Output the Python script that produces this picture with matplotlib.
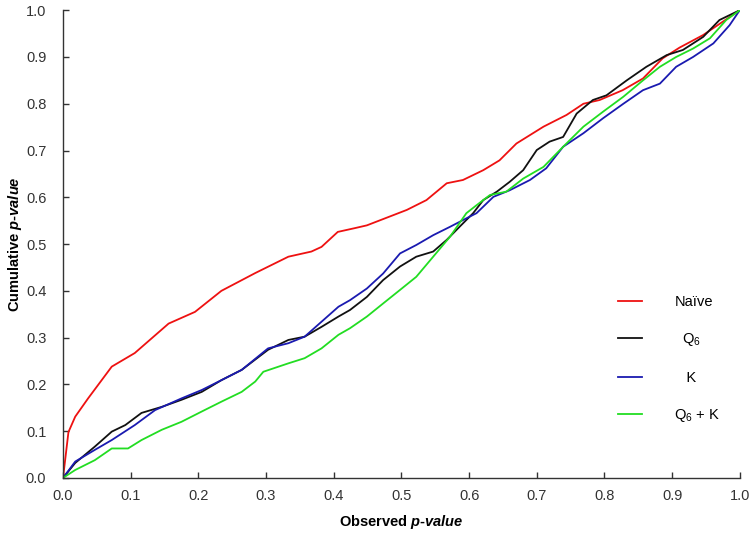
import matplotlib
matplotlib.use("Agg")
import matplotlib.pyplot as plt

plt.rcParams['font.family'] = ['Liberation Sans', 'DejaVu Sans']
plt.rcParams['mathtext.fontset'] = 'custom'
plt.rcParams['mathtext.rm'] = 'Liberation Sans'
plt.rcParams['mathtext.it'] = 'Liberation Sans:italic'
plt.rcParams['mathtext.bf'] = 'Liberation Sans:bold'
plt.rcParams['mathtext.bfit'] = 'Liberation Sans:italic:bold'

# Naive
naive_x = [0.0, 0.008, 0.018, 0.037, 0.072, 0.106, 0.156, 0.195, 0.234, 0.284, 0.333, 0.367,
           0.382, 0.406, 0.431, 0.449, 0.508, 0.537, 0.567, 0.591, 0.621, 0.645, 0.67, 0.71,
           0.744, 0.769, 0.793, 0.827, 0.857, 0.886, 0.911, 0.946, 1.0]
naive_y = [0.0, 0.098, 0.131, 0.17, 0.238, 0.267, 0.33, 0.355, 0.40, 0.438, 0.473, 0.484,
           0.494, 0.526, 0.534, 0.54, 0.573, 0.594, 0.63, 0.637, 0.658, 0.679, 0.715, 0.751,
           0.776, 0.80, 0.808, 0.829, 0.854, 0.897, 0.92, 0.947, 1.0]

# Q6
q6_x = [0.0, 0.018, 0.047, 0.072, 0.092, 0.116, 0.146, 0.175, 0.205, 0.234, 0.264, 0.303,
        0.333, 0.357, 0.382, 0.407, 0.424, 0.449, 0.473, 0.498, 0.522, 0.547, 0.567, 0.586,
        0.606, 0.621, 0.641, 0.66, 0.68, 0.70, 0.719, 0.739, 0.759, 0.783, 0.803, 0.833,
        0.862, 0.892, 0.916, 0.946, 0.97, 1.0]
q6_y = [0.0, 0.032, 0.067, 0.099, 0.113, 0.139, 0.152, 0.167, 0.184, 0.209, 0.231, 0.274,
        0.295, 0.302, 0.323, 0.345, 0.359, 0.387, 0.423, 0.452, 0.473, 0.484, 0.509, 0.537,
        0.566, 0.594, 0.612, 0.633, 0.658, 0.701, 0.719, 0.729, 0.779, 0.808, 0.818, 0.85,
        0.879, 0.904, 0.915, 0.943, 0.979, 1.0]

# K
k_x = [0.0, 0.018, 0.047, 0.072, 0.106, 0.136, 0.175, 0.205, 0.234, 0.264, 0.303, 0.333,
       0.357, 0.382, 0.407, 0.424, 0.449, 0.473, 0.498, 0.522, 0.547, 0.572, 0.596, 0.611,
       0.636, 0.66, 0.69, 0.714, 0.739, 0.769, 0.798, 0.828, 0.857, 0.882, 0.906, 0.931,
       0.961, 0.985, 1.0]
k_y = [0.0, 0.035, 0.06, 0.081, 0.113, 0.145, 0.17, 0.188, 0.209, 0.231, 0.277, 0.288,
       0.302, 0.334, 0.366, 0.38, 0.405, 0.437, 0.48, 0.498, 0.519, 0.537, 0.555, 0.566,
       0.601, 0.615, 0.637, 0.662, 0.708, 0.737, 0.769, 0.80, 0.829, 0.843, 0.879, 0.90,
       0.929, 0.968, 1.0]

# Q6 + K
qk_x = [0.0, 0.018, 0.047, 0.072, 0.096, 0.116, 0.146, 0.175, 0.205, 0.234, 0.264, 0.284,
        0.296, 0.333, 0.357, 0.382, 0.407, 0.424, 0.449, 0.473, 0.498, 0.522, 0.547, 0.572,
        0.596, 0.611, 0.631, 0.655, 0.68, 0.71, 0.739, 0.769, 0.798, 0.828, 0.857, 0.882,
        0.906, 0.931, 0.956, 0.98, 1.0]
qk_y = [0.0, 0.017, 0.038, 0.063, 0.063, 0.081, 0.103, 0.12, 0.142, 0.163, 0.184, 0.206,
        0.227, 0.245, 0.256, 0.277, 0.306, 0.32, 0.345, 0.373, 0.402, 0.43, 0.473, 0.516,
        0.566, 0.583, 0.605, 0.612, 0.64, 0.665, 0.708, 0.751, 0.783, 0.815, 0.85, 0.879,
        0.90, 0.918, 0.94, 0.979, 1.0]

labels = ["Naïve", "  Q$_6$", "   K", "Q$_6$ + K"]
colors = ["#ee1111", "#111111", "#1a1ab0", "#22dd22"]

fig = plt.figure(figsize=(7.54, 5.37), dpi=100)
ax = fig.add_axes([0.0836, 0.110, 0.8975, 0.871])

series = [(naive_x, naive_y), (q6_x, q6_y), (k_x, k_y), (qk_x, qk_y)]
for (xs, ys), lab, c in zip(series, labels, colors):
    ax.plot(xs, ys, color=c, lw=1.3, label=lab)

ax.set_xlim(0, 1)
ax.set_ylim(0, 1)
ticks = [i / 10 for i in range(11)]
ax.set_xticks(ticks)
ax.set_yticks(ticks)
ax.set_xticklabels([f"{t:.1f}" for t in ticks])
ax.set_yticklabels([f"{t:.1f}" for t in ticks])
ax.tick_params(direction='in', length=4, width=1, colors='#333333', labelsize=10.5,
               labelcolor='#333333')
ax.tick_params(axis='y', pad=12)
ax.tick_params(axis='x', pad=8)
for s in ['top', 'right']:
    ax.spines[s].set_visible(False)
for s in ['left', 'bottom']:
    ax.spines[s].set_color('#333333')
    ax.spines[s].set_linewidth(1.0)

ax.set_xlabel(r"Observed $\mathbfit{p}$-$\mathbfit{value}$", fontsize=10.5,
              fontweight='bold')
ax.set_ylabel(r"Cumulative $\mathbfit{p}$-$\mathbfit{value}$", fontsize=10.5,
              fontweight='bold')
ax.xaxis.set_label_coords(0.5, -0.094)
ax.yaxis.set_label_coords(-0.071, 0.5)
ax.xaxis.label.set_verticalalignment('center')
ax.yaxis.label.set_verticalalignment('center')

ax.legend(loc='upper left', bbox_to_anchor=(0.80, 0.42), frameon=False,
          fontsize=10.5, labelspacing=1.55, handlelength=1.7, handletextpad=2.2)

fig.savefig("out.png", dpi=100)
